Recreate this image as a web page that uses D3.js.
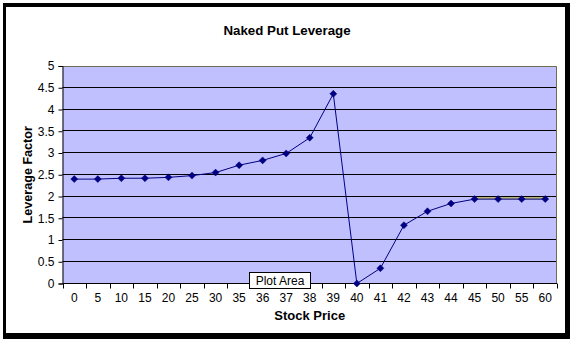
<!DOCTYPE html>
<html>
<head>
<meta charset="utf-8">
<script src="https://cdn.jsdelivr.net/npm/d3@7"></script>
<style>
  html, body { margin: 0; padding: 0; background: #fff; }
  svg { display: block; }
  text { font-family: "Liberation Sans", Arial, sans-serif; }
</style>
</head>
<body>
<svg id="chart" width="576" height="342"></svg>
<script>
const categories = ["0","5","10","15","20","25","30","35","36","37","38","39","40","41","42","43","44","45","50","55","60"];
const leverage = [2.40,2.40,2.42,2.42,2.44,2.48,2.55,2.72,2.83,2.99,3.35,4.36,0.00,0.35,1.34,1.66,1.84,1.94,1.94,1.94,1.94];
const yTicks = [0,0.5,1,1.5,2,2.5,3,3.5,4,4.5,5];
const flatFrom = "45", flatTo = "60";

const svg = d3.select("#chart");
const plot = {left: 62.5, right: 557, top: 66, bottom: 283.5};

// Outer frame (shadowed border)
svg.append("rect").attr("x", 3).attr("y", 3).attr("width", 567).attr("height", 336).attr("fill", "#000");
svg.append("rect").attr("x", 6).attr("y", 7).attr("width", 559).attr("height", 326).attr("fill", "#fff");

const x = d3.scaleBand().domain(categories).range([plot.left, plot.right]).padding(0);
const y = d3.scaleLinear().domain([0, 5]).range([plot.bottom, plot.top]);
const cx = c => x(c) + x.bandwidth() / 2;

// Plot area
svg.append("rect")
  .attr("x", plot.left).attr("y", plot.top)
  .attr("width", plot.right - plot.left).attr("height", plot.bottom - plot.top)
  .attr("fill", "#C0C0FF");

// Flat segment highlight (45..60), beneath grid
svg.append("line")
  .attr("x1", cx(flatFrom)).attr("x2", cx(flatTo))
  .attr("y1", y(1.967)).attr("y2", y(1.967))
  .attr("stroke", "#BDB57A").attr("stroke-width", 2.5);

// Gridlines
svg.append("g").selectAll("line")
  .data(yTicks.filter(t => t > 0 && t < 5))
  .join("line")
  .attr("x1", plot.left).attr("x2", plot.right)
  .attr("y1", d => Math.round(y(d)) - 0.5).attr("y2", d => Math.round(y(d)) - 0.5)
  .attr("stroke", "#000").attr("stroke-width", 1);

// plot border top/right
svg.append("path")
  .attr("d", `M${plot.left},${plot.top + 0.5}H${plot.right - 0.5}V${plot.bottom}`)
  .attr("fill", "none").attr("stroke", "#6e6e4e").attr("stroke-width", 1);

// Y axis
const yAxis = d3.axisLeft(y).tickValues(yTicks).tickSize(4).tickPadding(4)
  .tickFormat(d => d3.format("")(d));
const gy = svg.append("g").attr("transform", `translate(${plot.left},0)`).call(yAxis);
gy.select(".domain").attr("stroke", "#000");
gy.selectAll(".tick line").attr("stroke", "#000");
gy.selectAll("text").attr("font-size", 12).attr("fill", "#000")
  .style("font-family", '"Liberation Sans", Arial, sans-serif');

// X axis: tick marks at band boundaries, labels at band centres
const gx = svg.append("g").attr("transform", `translate(0,${plot.bottom})`);
gx.append("line").attr("x1", plot.left).attr("x2", plot.right).attr("y1", 0).attr("y2", 0).attr("stroke", "#000");
const bounds = categories.map(c => x(c)).concat([x(categories[categories.length - 1]) + x.bandwidth()]);
gx.selectAll("line.tk").data(bounds).join("line").attr("class", "tk")
  .attr("x1", d => Math.round(d) + 0.5).attr("x2", d => Math.round(d) + 0.5)
  .attr("y1", 0).attr("y2", 5).attr("stroke", "#000");
gx.selectAll("text").data(categories).join("text")
  .attr("x", d => cx(d)).attr("y", 18.5)
  .attr("text-anchor", "middle").attr("font-size", 12).attr("fill", "#000")
  .text(d => d);

// Series line
const data = categories.map((c, i) => ({c, v: leverage[i]}));
svg.append("path").datum(data)
  .attr("fill", "none").attr("stroke", "#000080").attr("stroke-width", 1)
  .attr("d", d3.line().x(d => cx(d.c)).y(d => y(d.v)));

// Diamond markers
svg.append("g").selectAll("path").data(data).join("path")
  .attr("transform", d => `translate(${cx(d.c)},${y(d.v)})`)
  .attr("d", "M0,-3.5L3.5,0L0,3.5L-3.5,0Z")
  .attr("fill", "#000080").attr("stroke", "#000080").attr("stroke-width", 0.5);

// Titles
svg.append("text").attr("x", 287).attr("y", 35).attr("text-anchor", "middle")
  .attr("font-size", 13.3).attr("font-weight", "bold").text("Naked Put Leverage");
svg.append("text").attr("x", (plot.left + plot.right) / 2).attr("y", 320).attr("text-anchor", "middle")
  .attr("font-size", 13).attr("font-weight", "bold").text("Stock Price");
svg.append("text")
  .attr("transform", `translate(32,${(plot.top + plot.bottom) / 2}) rotate(-90)`)
  .attr("text-anchor", "middle").attr("font-size", 12.6).attr("font-weight", "bold")
  .text("Leverage Factor");

// "Plot Area" tooltip
const tip = svg.append("g").attr("transform", "translate(249,272)");
tip.append("rect").attr("x", 0.5).attr("y", 0.5).attr("width", 61).attr("height", 16)
  .attr("fill", "#fff").attr("stroke", "#000");
tip.append("text").attr("x", 31).attr("y", 13).attr("text-anchor", "middle")
  .attr("font-size", 12).text("Plot Area");
</script>
</body>
</html>
